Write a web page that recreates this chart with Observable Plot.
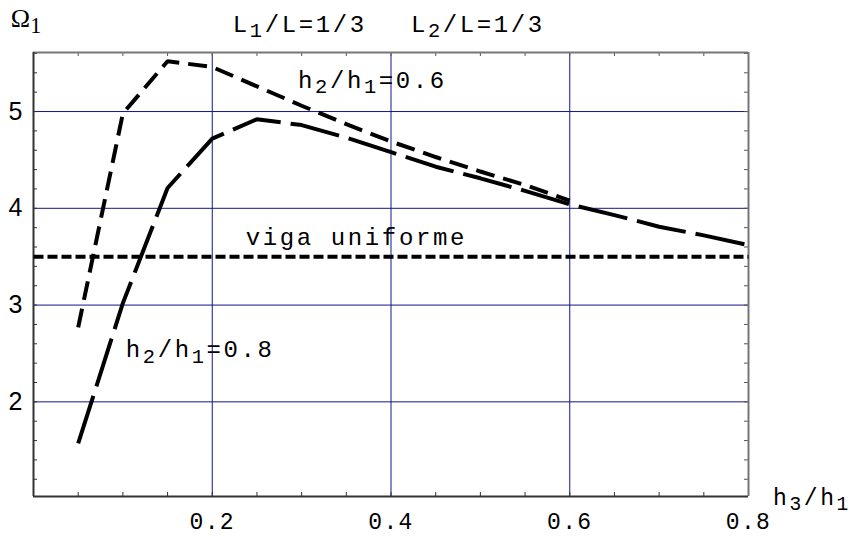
<!DOCTYPE html>
<html>
<head>
<meta charset="utf-8">
<script src="https://cdn.jsdelivr.net/npm/d3@7"></script>
<script src="https://cdn.jsdelivr.net/npm/@observablehq/plot@0.6"></script>
<style>
  html, body { margin: 0; padding: 0; background: #fff; }
  #chart .mono text { letter-spacing: 2.6px; }
  #chart .tickmono text { letter-spacing: 1.3px; }
</style>
</head>
<body>
<div id="chart"></div>
<script>
// ---- data ----
const h3h1_06 = [0.05, 0.10, 0.15, 0.20, 0.25, 0.30, 0.35, 0.40, 0.45, 0.50, 0.55, 0.60];
const omega_06 = [2.77, 4.98, 5.52, 5.46, 5.26, 5.06, 4.87, 4.69, 4.53, 4.38, 4.24, 4.08];

const h3h1_08 = [0.05, 0.10, 0.15, 0.20, 0.25, 0.30, 0.35, 0.40, 0.45, 0.50, 0.55, 0.60, 0.65, 0.70, 0.75, 0.80];
const omega_08 = [1.57, 3.02, 4.21, 4.72, 4.92, 4.86, 4.73, 4.58, 4.43, 4.31, 4.18, 4.04, 3.93, 3.81, 3.72, 3.62];

const uniformX = [0, 0.8];
const uniformOmega = [3.5, 3.5];

const xTickValues = [0.2, 0.4, 0.6, 0.8];
const yTickValues = [2, 3, 4, 5];
const xGridValues = [0.2, 0.4, 0.6];
const yGridValues = [2, 3, 4, 5];
const xMinorTicks = [0.05, 0.1, 0.15, 0.25, 0.3, 0.35, 0.45, 0.5, 0.55, 0.65, 0.7, 0.75];
const yMinorTicks = [1.2, 1.4, 1.6, 1.8, 2.2, 2.4, 2.6, 2.8, 3.2, 3.4, 3.6, 3.8, 4.2, 4.4, 4.6, 4.8, 5.2, 5.4, 5.6];

const titleLeft = "L_1/L=1/3";
const titleRight = "L_2/L=1/3";
const yTitle = "Ω_1";
const xTitle = "h_3/h_1";
const label06 = "h_2/h_1=0.6";
const label08 = "h_2/h_1=0.8";
const labelUniform = "viga uniforme";

// ---- layout ----
const W = 856, H = 537;
const mL = 33, mR = 108, mT = 52, mB = 41;
const innerW = W - mL - mR, innerH = H - mT - mB;
const xDomain = [0, 0.8];
const yDomain = [1.022, 5.61];

const s06 = h3h1_06.map((x, i) => ({x, y: omega_06[i]}));
const s08 = h3h1_08.map((x, i) => ({x, y: omega_08[i]}));
const sU = uniformX.map((x, i) => ({x, y: uniformOmega[i]}));

const gridColor = "#141487";
const monoFont = "'Liberation Mono', 'DejaVu Sans Mono', monospace";
const txt = {fontFamily: monoFont, fontSize: 24, textAnchor: "start", lineAnchor: "bottom", fill: "black", className: "mono"};

const plot = Plot.plot({
  width: W, height: H,
  marginLeft: mL, marginRight: mR, marginTop: mT, marginBottom: mB,
  x: {domain: xDomain},
  y: {domain: yDomain},
  style: {background: "white", overflow: "visible"},
  marks: [
    // grid
    Plot.ruleX(xGridValues, {stroke: gridColor, strokeWidth: 1}),
    Plot.ruleY(yGridValues, {stroke: gridColor, strokeWidth: 1}),
    // minor / major ticks (inward) on all four sides
    Plot.tickX(xMinorTicks.concat(xTickValues), {x: d => d, insetTop: innerH - 4, stroke: "#333", strokeWidth: 1}),
    Plot.tickX(xMinorTicks.concat(xTickValues), {x: d => d, insetBottom: innerH - 4, stroke: "#555", strokeWidth: 1}),
    Plot.tickY(yMinorTicks.concat(yTickValues), {y: d => d, insetRight: innerW - 4, stroke: "#333", strokeWidth: 1}),
    Plot.tickY(yMinorTicks.concat(yTickValues), {y: d => d, insetLeft: innerW - 4, stroke: "#555", strokeWidth: 1}),
    // frame
    Plot.ruleY([yDomain[1]], {stroke: "#777", strokeWidth: 2}),
    Plot.ruleX([xDomain[1]], {stroke: "#777", strokeWidth: 2}),
    Plot.ruleX([xDomain[0]], {stroke: "#333", strokeWidth: 2}),
    Plot.ruleY([yDomain[0]], {stroke: "#333", strokeWidth: 2}),
    // axes labels
    Plot.axisX({ticks: xTickValues, tickSize: 0, tickPadding: 16.5, tickFormat: d => d.toFixed(1),
      fontSize: 23, fontFamily: monoFont, label: null, className: "tickmono"}),
    Plot.axisY({ticks: yTickValues, tickSize: 0, tickPadding: 11, tickFormat: d => String(d),
      fontSize: 25, fontFamily: "'Liberation Sans', Arial, sans-serif", label: null}),
    // curves
    Plot.line(sU, {x: "x", y: "y", stroke: "black", strokeWidth: 4, strokeDasharray: "10,4", strokeLinecap: "butt"}),
    Plot.line(s06, {x: "x", y: "y", stroke: "black", strokeWidth: 4, strokeDasharray: "19,9", strokeLinecap: "butt", strokeLinejoin: "miter"}),
    Plot.line(s08, {x: "x", y: "y", stroke: "black", strokeWidth: 4, strokeDasharray: "50,10", strokeLinecap: "butt", strokeLinejoin: "miter"}),
    // annotations
    Plot.text([label06], {x: 0.296, y: 5.24, text: d => d, ...txt}),
    Plot.text([labelUniform], {x: 0.2376, y: 3.616, text: d => d, ...txt}),
    Plot.text([label08], {x: 0.1033, y: 2.459, text: d => d, ...txt}),
    Plot.text([xTitle], {x: 0.8274, y: 0.935, text: d => d, ...txt, fontSize: 23}),
    Plot.text([titleLeft], {x: 0.223, y: 5.82, text: d => d, ...txt}),
    Plot.text([titleRight], {x: 0.4223, y: 5.82, text: d => d, ...txt}),
    Plot.text([yTitle], {x: -0.0254, y: 5.87, text: d => d, ...txt, fontSize: 26, fontFamily: "'Liberation Serif', serif", className: "serif"})
  ]
});

// turn "_n" into subscripts
plot.querySelectorAll("text").forEach(t => {
  const s = t.textContent;
  if (!s.includes("_")) return;
  while (t.firstChild) t.removeChild(t.firstChild);
  const ns = "http://www.w3.org/2000/svg";
  let sub = false;
  s.split(/(_.)/).forEach(p => {
    if (!p) return;
    const ts = document.createElementNS(ns, "tspan");
    if (p.startsWith("_")) {
      ts.textContent = p.slice(1);
      ts.setAttribute("dy", "0.25em");
      ts.setAttribute("font-size", "0.85em");
      sub = true;
    } else {
      ts.textContent = p;
      if (sub) { ts.setAttribute("dy", "-0.2125em"); sub = false; }
    }
    t.appendChild(ts);
  });
});

document.getElementById("chart").appendChild(plot);
</script>
</body>
</html>
